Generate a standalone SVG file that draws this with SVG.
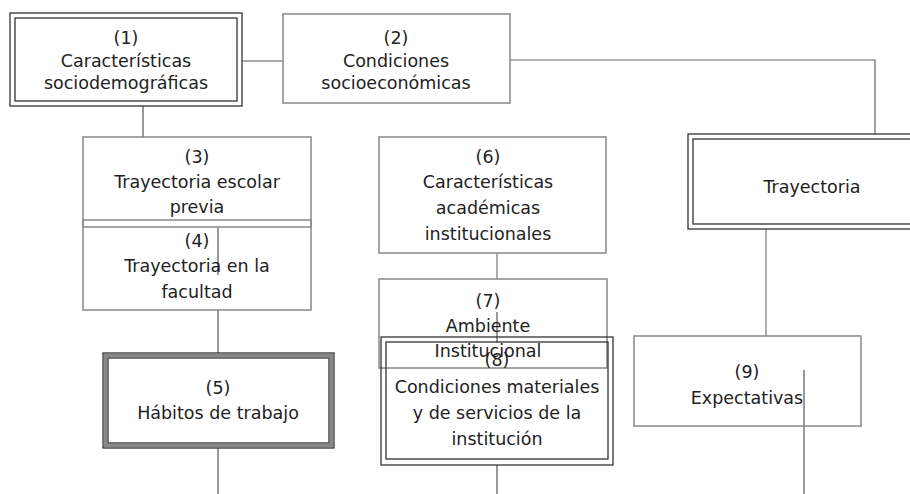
<svg xmlns="http://www.w3.org/2000/svg" width="910" height="494" viewBox="0 0 910 494">
<style>
text{font-family:"DejaVu Sans","Liberation Sans",sans-serif;font-size:17.5px;fill:#222;text-anchor:middle}
.g{fill:none;stroke:#888;stroke-width:1.5}
.d{fill:none;stroke:#333;stroke-width:1.3}
.band{fill:none;stroke:#888;stroke-width:3.5}
#connectors path{fill:none;stroke:#555;stroke-width:1.2}
</style>
<rect width="910" height="494" fill="#fff"/>
<g id="connectors">
<path d="M242,61H283"/>
<path d="M510,60H875V134" style="stroke:#666"/>
<path d="M143,106V137"/>
<path d="M218,228V275"/>
<path d="M218,310V353"/>
<path d="M218,448V494"/>
<path d="M497,253V279" style="stroke:#777"/>
<path d="M497,312V343"/>
<path d="M497,465V494"/>
<path d="M766,229V336" style="stroke:#777"/>
<path d="M804,370V494"/>
</g>
<g id="n1">
<rect class="d" x="10" y="13" width="232" height="93"/>
<rect class="d" x="15" y="18" width="222" height="83"/>
<text x="126" y="44">(1)</text>
<text x="126" y="67">Características</text>
<text x="126" y="89">sociodemográficas</text>
</g>
<g id="n2">
<rect class="g" x="283" y="14" width="227" height="89"/>
<text x="396" y="44">(2)</text>
<text x="396" y="67">Condiciones</text>
<text x="396" y="89">socioeconómicas</text>
</g>
<g id="n3">
<rect class="g" x="83" y="137" width="228" height="90"/>
<text x="197" y="163">(3)</text>
<text x="197" y="188">Trayectoria escolar</text>
<text x="197" y="213">previa</text>
</g>
<g id="n4">
<rect class="g" x="83" y="220" width="228" height="90"/>
<text x="197" y="247">(4)</text>
<text x="197" y="272">Trayectoria en la</text>
<text x="197" y="298">facultad</text>
</g>
<g id="n5">
<rect class="band" x="105.5" y="355.5" width="226" height="90"/>
<rect class="d" x="103" y="353" width="231" height="95"/>
<rect class="d" x="108" y="358" width="221" height="85"/>
<text x="218" y="394">(5)</text>
<text x="218" y="419">Hábitos de trabajo</text>
</g>
<g id="n6">
<rect class="g" x="379" y="137" width="227" height="116"/>
<text x="488" y="163">(6)</text>
<text x="488" y="188">Características</text>
<text x="488" y="214">académicas</text>
<text x="488" y="240">institucionales</text>
</g>
<g id="n7">
<rect class="g" x="379" y="279" width="228" height="89"/>
<text x="488" y="307">(7)</text>
<text x="488" y="332">Ambiente</text>
<text x="488" y="357">Institucional</text>
</g>
<g id="n8">
<rect class="d" x="381" y="337" width="232" height="128"/>
<rect class="d" x="386" y="342" width="222" height="117"/>
<text x="497" y="366">(8)</text>
<text x="497" y="393">Condiciones materiales</text>
<text x="497" y="419">y de servicios de la</text>
<text x="497" y="445">institución</text>
</g>
<g id="n9">
<rect class="d" x="688" y="134" width="230" height="95"/>
<rect class="d" x="693" y="139" width="225" height="85"/>
<text x="812" y="193">Trayectoria</text>
</g>
<g id="n10">
<rect class="g" x="634" y="336" width="227" height="90"/>
<text x="747" y="378">(9)</text>
<text x="747" y="404">Expectativas</text>
</g>
</svg>
